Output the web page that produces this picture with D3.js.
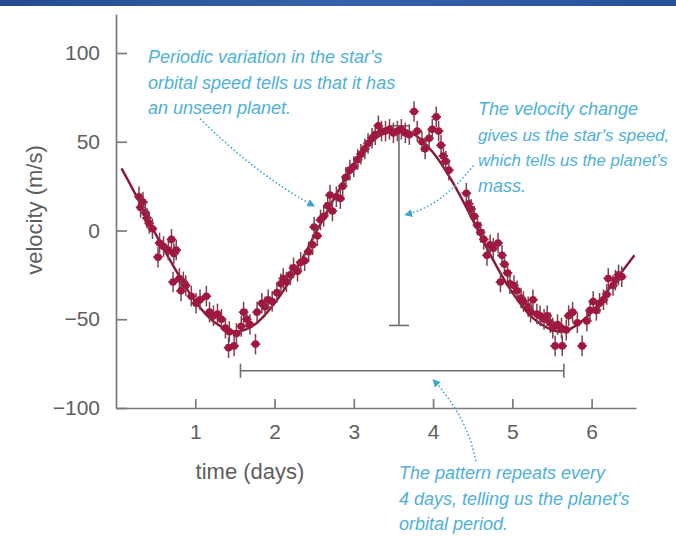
<!DOCTYPE html>
<html>
<head>
<meta charset="utf-8">
<script src="https://cdn.jsdelivr.net/npm/d3@7"></script>
<style>
  body { margin: 0; background: #fff; }
  svg { display: block; }
</style>
</head>
<body>
<svg id="chart" width="676" height="536"></svg>
<script>
const timeTicks = [1, 2, 3, 4, 5, 6];
const velocityTicks = [100, 50, 0, -50, -100];

// observed velocities, [time (days), velocity (m/s)]
const observations = [
  [0.29, 19], [0.31, 13], [0.34, 16], [0.37, 10], [0.39, 7], [0.42, 4], [0.46, 1],
  [0.53, -15], [0.55, -7], [0.60, -9], [0.66, -11], [0.70, -5], [0.73, -13], [0.76, -11],
  [0.72, -29], [0.80, -27], [0.85, -29], [0.88, -31], [0.82, -34], [0.95, -37], [1.01, -41],
  [1.06, -39], [1.14, -37], [1.18, -46], [1.23, -48], [1.28, -47], [1.33, -50], [1.38, -55],
  [1.43, -57], [1.42, -66], [1.49, -65], [1.52, -58], [1.58, -54], [1.61, -46], [1.65, -50],
  [1.69, -53], [1.76, -64], [1.78, -46], [1.84, -41], [1.88, -43], [1.92, -39], [1.97, -40],
  [2.03, -35], [2.08, -30], [2.11, -27], [2.15, -29], [2.20, -25], [2.24, -21], [2.29, -23],
  [2.33, -18], [2.38, -17], [2.43, -12], [2.48, -8], [2.50, 2], [2.54, -3], [2.58, 6],
  [2.62, 8], [2.67, 14], [2.70, 20], [2.73, 11], [2.78, 19], [2.83, 18], [2.86, 25],
  [2.90, 30], [2.95, 34], [3.00, 36], [3.05, 40], [3.09, 43], [3.14, 46], [3.18, 49],
  [3.23, 52], [3.27, 54], [3.31, 59], [3.35, 56], [3.40, 56], [3.45, 57], [3.50, 55],
  [3.55, 56], [3.60, 57], [3.65, 55], [3.70, 54], [3.76, 67], [3.80, 56], [3.86, 50],
  [3.90, 46], [3.95, 52], [3.99, 57], [4.04, 64], [4.07, 56], [4.10, 48], [4.13, 42],
  [4.16, 39], [4.20, 34], [4.42, 21], [4.45, 15], [4.48, 12], [4.52, 8], [4.56, 3],
  [4.60, -1], [4.64, -5], [4.68, -14], [4.72, -8], [4.76, -10], [4.82, -7], [4.85, -29],
  [4.87, -14], [4.90, -19], [4.94, -24], [4.97, -30], [5.02, -31], [5.06, -34], [5.11, -38],
  [5.14, -40], [5.20, -43], [5.26, -39], [5.23, -46], [5.31, -47], [5.35, -48], [5.40, -50],
  [5.44, -48], [5.48, -52], [5.51, -55], [5.54, -65], [5.57, -53], [5.63, -65], [5.62, -55],
  [5.68, -56], [5.71, -48], [5.76, -46], [5.82, -52], [5.88, -65], [5.94, -51], [5.98, -45],
  [6.02, -40], [6.06, -45], [6.10, -41], [6.15, -39], [6.19, -36], [6.21, -27], [6.27, -31],
  [6.30, -28], [6.34, -25], [6.38, -26]
];

// fitted orbit curve
const fitCurve = [
  [0.07, 35], [0.25, 20], [0.5, -2], [0.75, -22], [1.0, -40], [1.25, -52], [1.52, -57],
  [1.75, -53], [2.0, -41], [2.25, -24], [2.5, -3], [2.75, 18], [3.0, 37], [3.25, 51],
  [3.56, 57], [3.75, 54.5], [4.0, 44], [4.25, 27], [4.5, 6], [4.75, -16], [5.0, -35],
  [5.25, -49], [5.5, -56], [5.63, -57], [5.75, -55], [6.0, -46], [6.25, -31], [6.54, -14]
];

const velocityBar = [3.57, -53.5, 59];   // time, low, high
const periodBar = [1.57, 5.65, -79];     // start, end, velocity

const notes = [
  {lines: ["Periodic variation in the star's", "orbital speed tells us that it has", "an unseen planet."],
   x: 148, y: 63, sizes: []},
  {lines: ["The velocity change", "gives us the star's speed,", "which tells us the planet's", "mass."],
   x: 478, y: 115, sizes: [null, 17, 16.8, null]},
  {lines: ["The pattern repeats every", "4 days, telling us the planet's", "orbital period."],
   x: 399, y: 479, sizes: []}
];

// annotation pointers: start, control, end in data units
const pointers = [
  [[1.06, 63], [1.77, 31.5], [2.49, 14]],
  [[4.51, 36.6], [4.10, 13.5], [3.66, 9]],
  [[4.54, -130], [4.43, -105], [4.01, -84.5]]
];

const svg = d3.select('#chart');
const width = 676;

const x = d3.scaleLinear().domain([0, 6.56]).range([116, 636]);
const y = d3.scaleLinear().domain([-100, 100]).range([408, 53]);
const yAxisScale = d3.scaleLinear().domain([-100, 122]).range([y(-100), y(122)]);

const defs = svg.append('defs');
const grad = defs.append('linearGradient').attr('id', 'band');
grad.append('stop').attr('offset', '0%').attr('stop-color', '#244b8f');
grad.append('stop').attr('offset', '50%').attr('stop-color', '#3762ab');
grad.append('stop').attr('offset', '100%').attr('stop-color', '#27509a');
defs.append('marker')
  .attr('id', 'head')
  .attr('viewBox', '0 0 8 8')
  .attr('refX', 6).attr('refY', 4)
  .attr('markerWidth', 8).attr('markerHeight', 8)
  .attr('markerUnits', 'userSpaceOnUse')
  .attr('orient', 'auto')
  .append('path')
  .attr('d', 'M0,0L8,4L0,8Z')
  .attr('fill', '#3fa3cf');

svg.append('rect').attr('width', width).attr('height', 6).attr('fill', 'url(#band)');

// axes
const axisColor = '#7a7a7a';
const gy = svg.append('g')
  .attr('transform', `translate(${x(0)},0)`)
  .call(d3.axisLeft(yAxisScale).tickValues(velocityTicks)
    .tickSizeInner(-11).tickSizeOuter(0).tickPadding(16));
const gx = svg.append('g')
  .attr('transform', `translate(0,${y(-100)})`)
  .call(d3.axisBottom(x).tickValues(timeTicks).tickFormat(d3.format('d'))
    .tickSizeInner(-9).tickSizeOuter(0).tickPadding(16));
[gx, gy].forEach(g => {
  g.select('.domain').attr('stroke', axisColor).attr('stroke-width', 1.7);
  g.selectAll('.tick line').attr('stroke', axisColor).attr('stroke-width', 1.7);
  g.selectAll('.tick text')
    .attr('fill', '#5e5e5e')
    .style('font-family', '"Liberation Sans", Arial, sans-serif')
    .style('font-size', '21px');
});

svg.append('text')
  .attr('x', 250).attr('y', 479)
  .attr('text-anchor', 'middle')
  .attr('fill', '#5e5e5e')
  .style('font-family', '"Liberation Sans", Arial, sans-serif')
  .style('font-size', '22px')
  .text('time (days)');
svg.append('text')
  .attr('transform', 'translate(42,210) rotate(-90)')
  .attr('text-anchor', 'middle')
  .attr('fill', '#5e5e5e')
  .style('font-family', '"Liberation Sans", Arial, sans-serif')
  .style('font-size', '22px')
  .text('velocity (m/s)');

// amplitude and period bars
const barColor = '#6e6e6e';
const bars = svg.append('g').attr('stroke', barColor).attr('stroke-width', 1.6).attr('fill', 'none');
bars.append('line')
  .attr('x1', x(velocityBar[0])).attr('x2', x(velocityBar[0]))
  .attr('y1', y(velocityBar[1])).attr('y2', y(velocityBar[2]));
[velocityBar[1], velocityBar[2]].forEach(v => {
  bars.append('line')
    .attr('x1', x(velocityBar[0]) - 10).attr('x2', x(velocityBar[0]) + 10)
    .attr('y1', y(v)).attr('y2', y(v));
});
bars.append('line')
  .attr('x1', x(periodBar[0])).attr('x2', x(periodBar[1]))
  .attr('y1', y(periodBar[2])).attr('y2', y(periodBar[2]));
[periodBar[0], periodBar[1]].forEach(t => {
  bars.append('line')
    .attr('x1', x(t)).attr('x2', x(t))
    .attr('y1', y(periodBar[2]) - 7).attr('y2', y(periodBar[2]) + 7);
});

// fitted curve
svg.append('path')
  .datum(fitCurve)
  .attr('fill', 'none')
  .attr('stroke', '#8a1636')
  .attr('stroke-width', 2.4)
  .attr('d', d3.line().x(d => x(d[0])).y(d => y(d[1])).curve(d3.curveCatmullRom.alpha(0.5)));

// observations with error bars
const errV = 5.8, errT = 0.06;
const pts = svg.append('g').selectAll('g').data(observations).join('g');
pts.append('line')
  .attr('x1', d => x(d[0])).attr('x2', d => x(d[0]))
  .attr('y1', d => y(d[1] - errV)).attr('y2', d => y(d[1] + errV))
  .attr('stroke', '#7c4050').attr('stroke-width', 1.5);
pts.append('line')
  .attr('x1', d => x(d[0] - errT)).attr('x2', d => x(d[0] + errT))
  .attr('y1', d => y(d[1])).attr('y2', d => y(d[1]))
  .attr('stroke', '#8a2442').attr('stroke-width', 1.8);
pts.append('circle')
  .attr('cx', d => x(d[0])).attr('cy', d => y(d[1]))
  .attr('r', 3.8)
  .attr('fill', '#a1173f');

// pointers
const noteColor = '#4fb0d8';
svg.append('g').selectAll('path').data(pointers).join('path')
  .attr('d', p => {
    const path = d3.path();
    path.moveTo(x(p[0][0]), y(p[0][1]));
    path.quadraticCurveTo(x(p[1][0]), y(p[1][1]), x(p[2][0]), y(p[2][1]));
    return path.toString();
  })
  .attr('fill', 'none')
  .attr('stroke', '#48a8d2')
  .attr('stroke-width', 1.6)
  .attr('stroke-dasharray', '1.6 2.2')
  .attr('marker-end', 'url(#head)');

// notes
notes.forEach(n => {
  n.lines.forEach((line, i) => {
    svg.append('text')
      .attr('x', n.x).attr('y', n.y + i * 25.5)
      .attr('fill', noteColor)
      .style('font-family', '"Liberation Sans", Arial, sans-serif')
      .style('font-style', 'italic')
      .style('font-size', (n.sizes[i] || 18) + 'px')
      .text(line);
  });
});
</script>
</body>
</html>
